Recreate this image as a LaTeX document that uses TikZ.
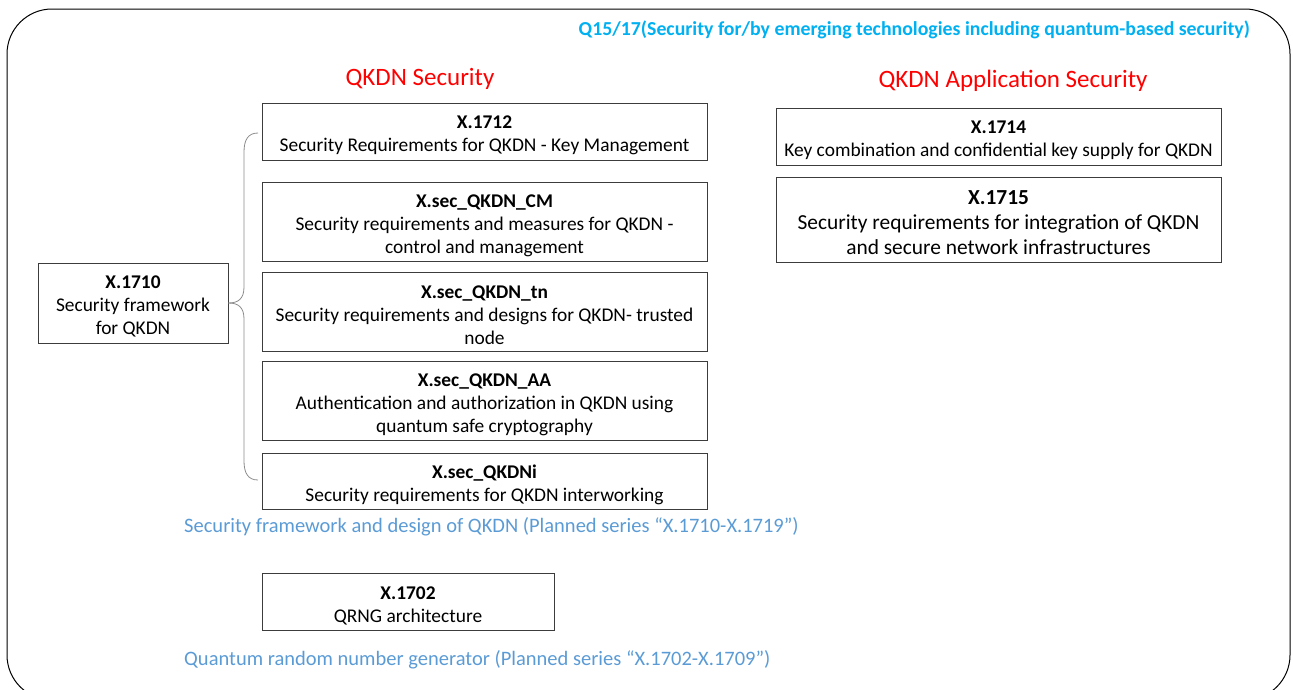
\documentclass[tikz,border=0pt]{standalone}
\usepackage{fontspec}
\setmainfont{Carlito}
\definecolor{ttlblue}{RGB}{0,176,240}
\definecolor{capblue}{RGB}{91,155,213}
\definecolor{ttlred}{RGB}{255,0,0}
\definecolor{boxline}{RGB}{60,60,60}
\newcommand\mydocbox[7][]{%
  \node[docbox,minimum width=#5pt,minimum height=#6pt] (#2) at (#3,#4) {};
  \node[doctext,#1] (#2-t) at ([yshift=-3.5pt]#2.center) {#7};}
\begin{document}
\begin{tikzpicture}[x=1pt,y=-1pt,
  docbox/.style={draw=boxline,line width=0.9pt,inner sep=0pt},
  doctext/.style={align=center,inner sep=0pt,font=\fontsize{19.4}{23}\selectfont},
  sectitle/.style={text=ttlred,font=\fontsize{25}{28}\selectfont,inner sep=0pt},
  caption/.style={text=capblue,font=\fontsize{20.5}{24}\selectfont,inner sep=0pt,anchor=west},
  bracepath/.style={draw=black!45,line width=0.8pt}]
\useasboundingbox (0,0) rectangle (1293,689);
\begin{scope}
\clip (0,0) rectangle (1293,689);
\draw[line width=1pt,rounded corners=45pt] (7,9) rectangle (1290,700);
\end{scope}

\node[text=ttlblue,font=\bfseries\fontsize{19.8}{22}\selectfont,anchor=east,inner sep=0pt] (top) at (1250,30) {Q15/17(Security for/by emerging technologies including quantum-based security)};

\node[sectitle] (qs) at (420,79) {QKDN Security};
\node[sectitle] (qas) at (1013,81) {QKDN Application Security};

\mydocbox{b1712}{484.5}{132}{445}{57}{\textbf{X.1712}\\Security Requirements for QKDN - Key Management}
\mydocbox{bcm}{484.5}{222}{445}{79}{\textbf{X.sec\_QKDN\_CM}\\Security requirements and measures for QKDN -\\control and management}
\mydocbox{btn}{484.5}{312}{445}{79}{\textbf{X.sec\_QKDN\_tn}\\Security requirements and designs for QKDN- trusted\\node}
\mydocbox{baa}{484.5}{401}{445}{79}{\textbf{X.sec\_QKDN\_AA}\\Authentication and authorization in QKDN using\\quantum safe cryptography}
\mydocbox{bi}{484.5}{481.5}{445}{56}{\textbf{X.sec\_QKDNi}\\Security requirements for QKDN interworking}

\mydocbox{b1710}{133}{303}{190}{80}{\textbf{X.1710}\\Security framework\\for QKDN}

\mydocbox{b1714}{998.5}{137}{445}{57}{\textbf{X.1714}\\Key combination and confidential key supply for QKDN}
\mydocbox[font=\fontsize{21.4}{25}\selectfont]{b1715}{998.5}{219.5}{445}{85}{\textbf{X.1715}\\Security requirements for integration of QKDN\\and secure network infrastructures}

\mydocbox{b1702}{408}{602}{292}{57}{\textbf{X.1702}\\QRNG architecture}

\node[caption] (c1) at (184,527) {Security framework and design of QKDN (Planned series “X.1710-X.1719”)};
\node[caption] (c2) at (184,660) {Quantum random number generator (Planned series “X.1702-X.1709”)};

\coordinate (btop) at (258,133);
\coordinate (bbot) at (258,480);
\coordinate (btip) at (b1710.east);
\draw[bracepath] (btop) .. controls (248,133) and (244,140) .. (244,152) -- (244,287)
  .. controls (244,299) and (238,303) .. (btip);
\draw[bracepath] (bbot) .. controls (248,480) and (244,473) .. (244,461) -- (244,319)
  .. controls (244,307) and (238,303) .. (btip);
\end{tikzpicture}
\end{document}
